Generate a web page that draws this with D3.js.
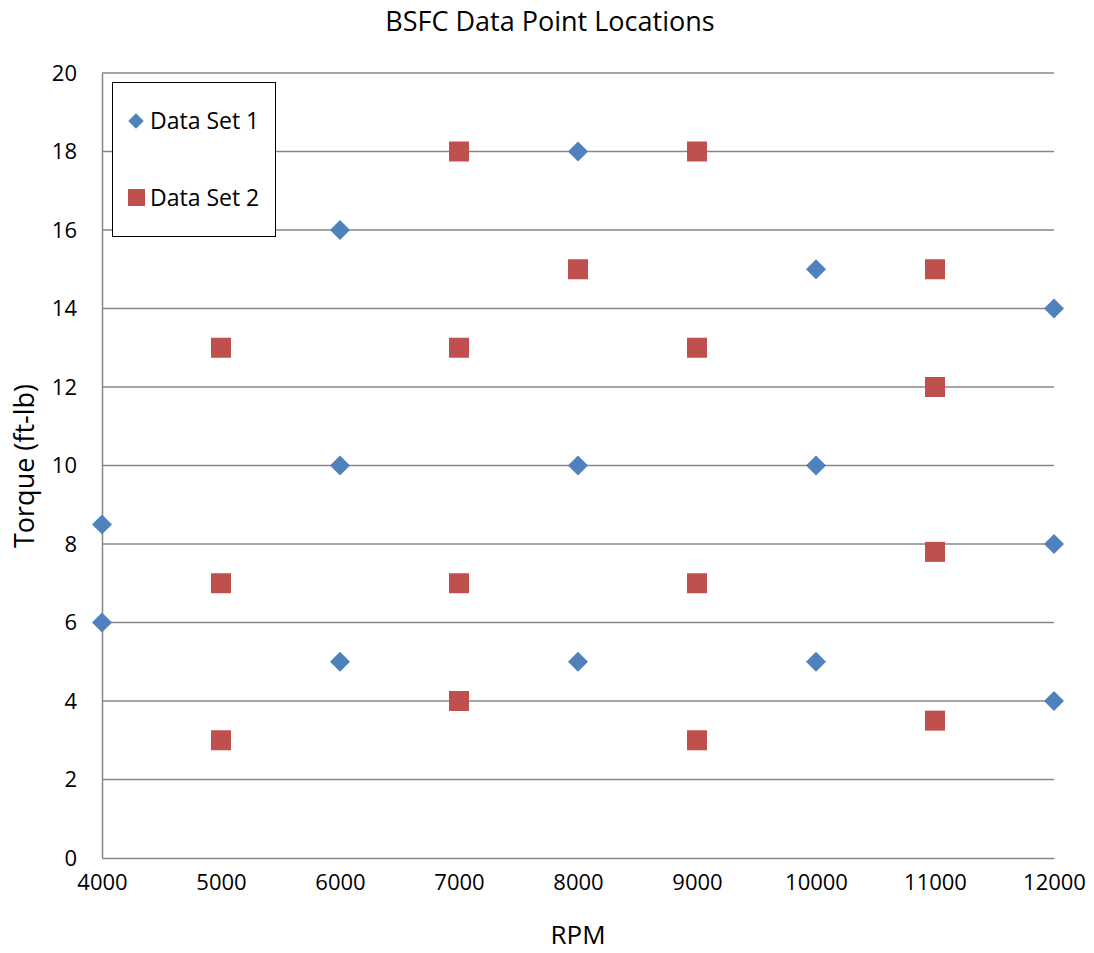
<!DOCTYPE html>
<html>
<head>
<meta charset="utf-8">
<script src="https://cdn.jsdelivr.net/npm/d3@7"></script>
<style>
  body { margin: 0; background: #fff; }
  svg text { font-family: "Open Sans", sans-serif; fill: #000; }
</style>
</head>
<body>
<div id="chart"></div>
<script>
// Data
const set1Rpm = [4000, 4000, 6000, 6000, 6000, 8000, 8000, 8000, 10000, 10000, 10000, 12000, 12000, 12000];
const set1Torque = [8.5, 6, 16, 10, 5, 18, 10, 5, 15, 10, 5, 14, 8, 4];
const set2Rpm = [5000, 5000, 5000, 7000, 7000, 7000, 7000, 8000, 9000, 9000, 9000, 9000, 11000, 11000, 11000, 11000];
const set2Torque = [13, 7, 3, 18, 13, 7, 4, 15, 18, 13, 7, 3, 15, 12, 7.8, 3.5];
const xTicks = [4000, 5000, 6000, 7000, 8000, 9000, 10000, 11000, 12000];
const yTicks = [0, 2, 4, 6, 8, 10, 12, 14, 16, 18, 20];
const seriesNames = ['Data Set 1', 'Data Set 2'];

const width = 1094, height = 953;
const margin = { top: 73, right: 40, bottom: 95, left: 102 };

const svg = d3.select('#chart').append('svg')
  .attr('width', width)
  .attr('height', height);

const x = d3.scaleLinear().domain([4000, 12000]).range([margin.left, width - margin.right]);
const y = d3.scaleLinear().domain([0, 20]).range([height - margin.bottom, margin.top]);

// Gridlines
svg.append('g')
  .selectAll('line')
  .data(yTicks.filter(d => d > 0))
  .enter()
  .append('line')
  .attr('x1', x(4000))
  .attr('x2', x(12000))
  .attr('y1', d => y(d))
  .attr('y2', d => y(d))
  .attr('stroke', '#878787')
  .attr('stroke-width', 1.3);

// Axes (no tick marks)
const yAxis = svg.append('g')
  .attr('transform', `translate(${x(4000)},0)`)
  .call(d3.axisLeft(y).tickValues(yTicks).tickSize(0).tickPadding(25));
const xAxis = svg.append('g')
  .attr('transform', `translate(0,${y(0)})`)
  .call(d3.axisBottom(x).tickValues(xTicks).tickFormat(d3.format('d')).tickSize(0).tickPadding(16));

[yAxis, xAxis].forEach(a => {
  a.select('.domain').attr('stroke', '#878787').attr('stroke-width', 1.5);
  a.selectAll('text').style('font-size', '22px').attr('fill', '#000');
});

// Series 1 - diamonds
const diamond = d3.symbol().type(d3.symbolSquare).size(200);
svg.append('g')
  .selectAll('path')
  .data(set1Rpm.map((r, i) => ({ rpm: r, torque: set1Torque[i] })))
  .enter()
  .append('path')
  .attr('d', diamond)
  .attr('transform', d => `translate(${x(d.rpm)},${y(d.torque)}) rotate(45)`)
  .attr('fill', '#4F81BD');

// Series 2 - squares
svg.append('g')
  .selectAll('rect')
  .data(set2Rpm.map((r, i) => ({ rpm: r, torque: set2Torque[i] })))
  .enter()
  .append('rect')
  .attr('x', d => x(d.rpm) - 10)
  .attr('y', d => y(d.torque) - 10)
  .attr('width', 20)
  .attr('height', 20)
  .attr('fill', '#C0504D');

// Legend
const legend = svg.append('g');
legend.append('rect')
  .attr('x', 112.5)
  .attr('y', 82.5)
  .attr('width', 163)
  .attr('height', 154)
  .attr('fill', '#fff')
  .attr('stroke', '#000')
  .attr('stroke-width', 1);

legend.append('path')
  .attr('d', d3.symbol().type(d3.symbolSquare).size(120))
  .attr('transform', 'translate(136,121) rotate(45)')
  .attr('fill', '#4F81BD');
legend.append('rect')
  .attr('x', 128).attr('y', 189)
  .attr('width', 17).attr('height', 17)
  .attr('fill', '#C0504D');

legend.selectAll('text.lg')
  .data(seriesNames)
  .enter()
  .append('text')
  .attr('class', 'lg')
  .attr('x', 150)
  .attr('y', (d, i) => 121 + i * 77)
  .attr('dy', '0.35em')
  .style('font-size', '23px')
  .text(d => d);

// Title and axis labels
svg.append('text')
  .attr('x', 550)
  .attr('y', 22)
  .attr('dy', '0.35em')
  .attr('text-anchor', 'middle')
  .style('font-size', '27px')
  .text('BSFC Data Point Locations');

svg.append('text')
  .attr('x', 578)
  .attr('y', 935)
  .attr('dy', '0.35em')
  .attr('text-anchor', 'middle')
  .style('font-size', '26px')
  .text('RPM');

svg.append('text')
  .attr('transform', 'translate(25,466) rotate(-90)')
  .attr('dy', '0.35em')
  .attr('text-anchor', 'middle')
  .style('font-size', '27px')
  .text('Torque (ft-lb)');
</script>
</body>
</html>
